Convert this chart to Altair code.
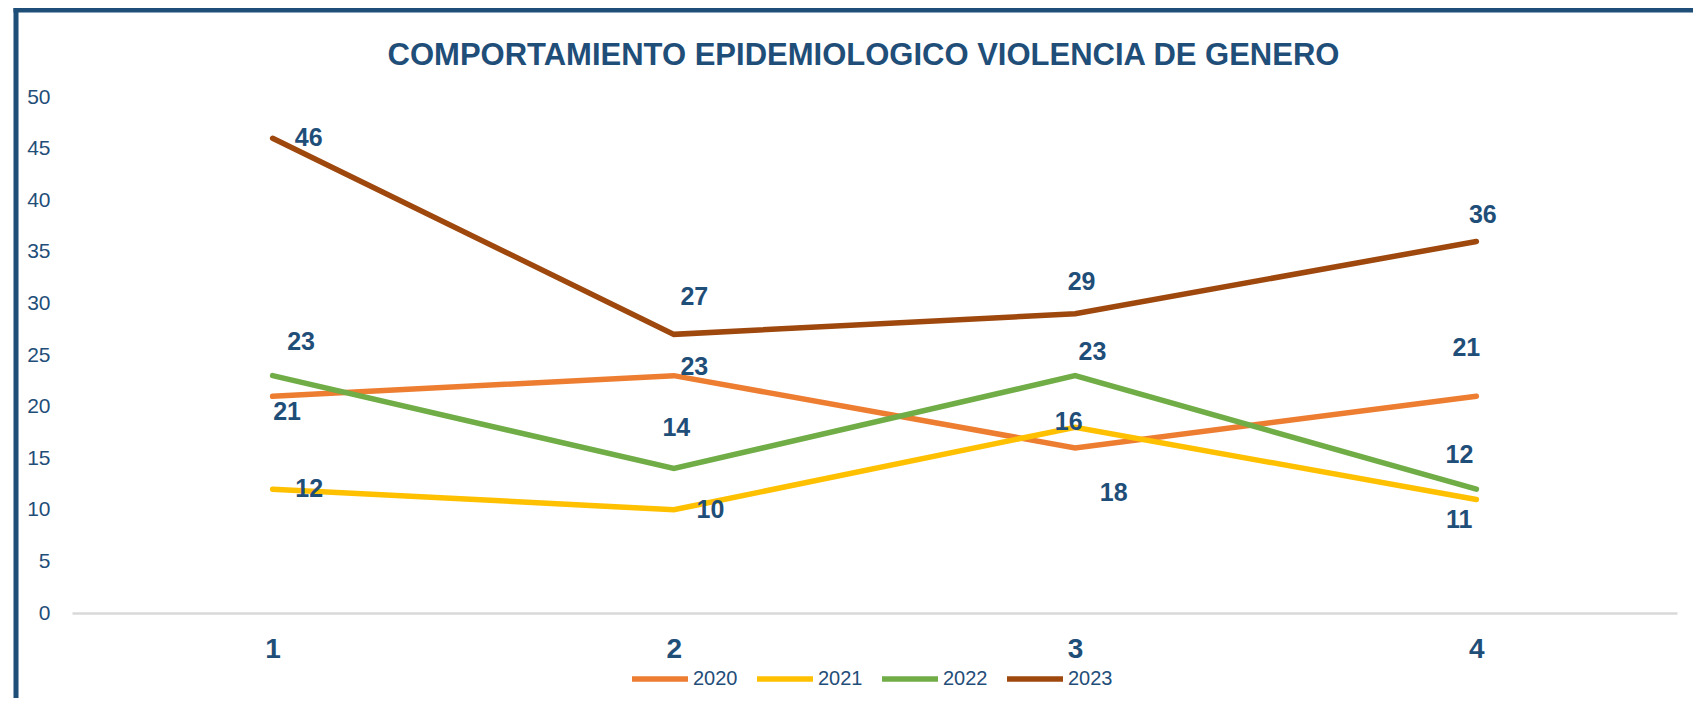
import altair as alt
import pandas as pd

# ---- data ----
periods = [1, 2, 3, 4]
years = ["2020", "2021", "2022", "2023"]
colors = ["#ED7D31", "#FFC000", "#70AD47", "#9E480E"]

v2020 = [21, 23, 16, 21]
v2021 = [12, 10, 18, 11]
v2022 = [23, 14, 23, 12]
v2023 = [46, 27, 29, 36]

# data-label texts as printed in the picture
t2020 = [21, 23, 18, 21]
t2021 = [12, 10, 16, 11]
t2022 = [23, 14, 23, 12]
t2023 = [46, 27, 29, 36]

# data-label anchors (in data units)
lx2020 = [1.036, 2.051, 3.096, 3.975]
ly2020 = [19.49, 23.8, 11.58, 25.64]
lx2021 = [1.091, 2.091, 2.984, 3.957]
ly2021 = [11.97, 9.96, 18.5, 8.99]
lx2022 = [1.071, 2.006, 3.043, 3.958]
ly2022 = [26.28, 17.88, 25.3, 15.29]
lx2023 = [1.090, 2.051, 3.016, 4.016]
ly2023 = [46.0, 30.64, 32.1, 38.56]

title_text = "COMPORTAMIENTO EPIDEMIOLOGICO VIOLENCIA DE GENERO"

# ---- build tables ----
vals = {"2020": v2020, "2021": v2021, "2022": v2022, "2023": v2023}
texts = {"2020": t2020, "2021": t2021, "2022": t2022, "2023": t2023}
lxs = {"2020": lx2020, "2021": lx2021, "2022": lx2022, "2023": lx2023}
lys = {"2020": ly2020, "2021": ly2021, "2022": ly2022, "2023": ly2023}

rows, lrows = [], []
for y in years:
    for i, p in enumerate(periods):
        rows.append({"period": p, "year": y, "value": vals[y][i]})
        lrows.append({"lx": lxs[y][i], "ly": lys[y][i], "label": str(texts[y][i]), "year": y})
df = pd.DataFrame(rows)
ldf = pd.DataFrame(lrows)

BLUE = "#1F4E79"
SANS = "Liberation Sans, Arial, sans-serif"

xscale = alt.Scale(domain=[0.5, 4.5], nice=False, zero=False)
yscale = alt.Scale(domain=[0, 50], nice=False)

lines = alt.Chart(df).mark_line(strokeWidth=5.5, strokeCap="round", strokeJoin="miter").encode(
    x=alt.X("period:Q", scale=xscale,
            axis=alt.Axis(values=periods, format="d", title=None, ticks=False, grid=False,
                          domainColor="#D9D9D9", domainWidth=2.3, labelFont=SANS,
                          labelFontWeight="bold", labelFontSize=28, labelColor=BLUE,
                          labelPadding=22)),
    y=alt.Y("value:Q", scale=yscale,
            axis=alt.Axis(values=list(range(0, 51, 5)), title=None, ticks=False, grid=False,
                          domain=False, labelFont=SANS, labelFontSize=21, labelColor=BLUE,
                          labelPadding=22)),
    color=alt.Color("year:N", scale=alt.Scale(domain=years, range=colors),
                    legend=alt.Legend(title=None, orient="none", direction="horizontal",
                                      legendX=557, legendY=551, symbolType="stroke",
                                      symbolSize=3136, symbolStrokeWidth=5.5,
                                      labelFont=SANS, labelFontSize=20, labelColor=BLUE,
                                      labelOffset=2, columnPadding=8, padding=0)),
    order="period:Q",
)

labels = alt.Chart(ldf).mark_text(font=SANS, fontWeight="bold", fontSize=25, color=BLUE,
                                  baseline="middle", align="center").encode(
    x=alt.X("lx:Q", scale=xscale),
    y=alt.Y("ly:Q", scale=yscale),
    text="label:N",
)

frame_df = pd.DataFrame({"k": [0]})
left_border = alt.Chart(frame_df).mark_rule(color=BLUE, strokeWidth=5).encode(
    x=alt.value(-56), y=alt.value(-89), y2=alt.value(700))
top_border = alt.Chart(frame_df).mark_rule(color=BLUE, strokeWidth=5).encode(
    x=alt.value(-58.5), x2=alt.value(1700), y=alt.value(-87))

chart = alt.layer(left_border, top_border, lines, labels).properties(
    width=1605, height=516,
    padding={"left": 64, "top": 89, "right": 16, "bottom": 85},
    autosize=alt.AutoSizeParams(type="none"),
    title=alt.TitleParams(title_text, font=SANS, fontWeight="bold", fontSize=31,
                          color=BLUE, anchor="middle", frame="group", dx=-11, offset=-66),
).configure_view(stroke=None)

chart.save("out.html", embed_options={"renderer": "svg", "actions": False})
